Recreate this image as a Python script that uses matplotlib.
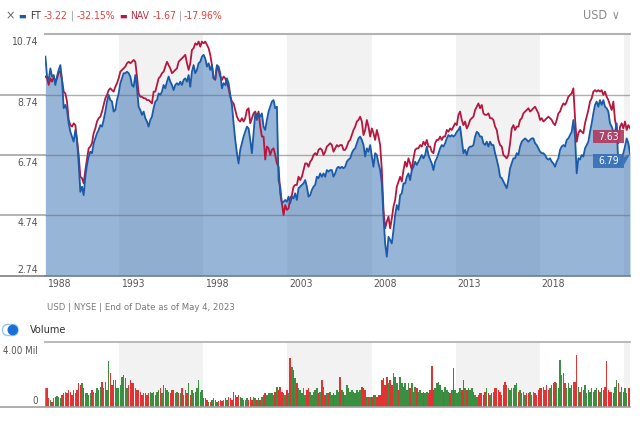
import matplotlib.pyplot as plt
import numpy as np
import pandas as pd
from matplotlib.lines import Line2D
from matplotlib.patches import Circle, FancyBboxPatch, Polygon, Rectangle

plt.rcParams['font.family'] = ['DejaVu Sans']
plt.rcParams['font.stretch'] = 'condensed'

# monthly-ish closes
ft_price = [
    10.00, 9.34, 9.23, 9.61, 9.34, 9.39, 9.06, 9.34, 9.56, 9.72,
    9.23, 8.29, 8.40, 8.23, 7.79, 7.51, 7.35, 7.18, 7.57, 7.24,
    6.46, 5.52, 5.69, 5.41, 6.02, 6.41, 6.69, 6.85, 6.80, 7.13,
    7.29, 7.46, 7.57, 7.73, 7.68, 7.90, 8.18, 8.51, 8.73, 8.56,
    8.51, 8.18, 8.23, 8.56, 8.78, 9.12, 9.28, 9.45, 9.45, 9.50,
    9.45, 9.34, 9.06, 9.00, 9.39, 8.95, 8.34, 8.23, 8.07, 8.18,
    7.96, 7.85, 7.68, 7.90, 8.01, 8.29, 8.51, 8.56, 8.78, 8.73,
    8.84, 9.06, 8.95, 9.17, 9.34, 9.17, 9.06, 8.89, 9.06, 9.12,
    9.06, 9.17, 9.06, 9.23, 9.28, 9.17, 9.39, 9.00, 9.50, 9.72,
    9.45, 9.56, 9.78, 9.83, 10.00, 10.06, 9.94, 9.67, 9.78, 9.56,
    9.72, 9.28, 9.28, 9.72, 9.67, 9.45, 8.95, 9.12, 9.06, 9.28,
    9.12, 8.73, 8.40, 7.79, 7.24, 6.80, 6.46, 6.91, 7.13, 7.35,
    7.51, 7.68, 7.62, 7.24, 6.80, 7.46, 8.12, 7.90, 8.12, 8.01,
    8.12, 7.68, 7.57, 7.90, 8.18, 8.34, 8.51, 8.56, 8.29, 8.34,
    5.91, 5.69, 5.14, 5.19, 5.25, 5.19, 5.36, 5.14, 5.36, 5.30,
    5.47, 5.25, 5.64, 5.69, 5.75, 5.80, 5.91, 5.69, 5.36, 5.41,
    5.58, 5.69, 5.75, 6.02, 5.97, 6.13, 6.02, 6.13, 6.02, 6.24,
    6.19, 6.24, 6.24, 6.02, 6.13, 6.30, 6.35, 6.30,
    6.35, 6.30, 6.35, 6.52, 6.59, 6.63, 6.80, 6.91, 6.96, 7.13,
    7.29, 7.35, 7.24, 7.07, 6.69, 6.96, 6.85, 7.07, 6.69, 6.35,
    6.80, 6.74, 6.46, 6.24, 5.80, 4.70, 3.81, 3.37, 4.03, 3.92,
    3.81, 4.25, 4.75, 5.08, 4.92, 5.41, 5.47, 5.80, 5.80, 6.02,
    6.13, 5.91, 6.24, 6.35, 6.52, 6.41, 6.52, 6.63, 6.74, 6.63,
    6.74, 7.02, 6.74, 6.59, 6.46, 6.24, 6.52, 6.63, 6.80, 6.96,
    7.07, 7.02, 7.13, 7.29, 7.40, 7.35, 7.40, 7.35, 7.40, 7.51,
    7.57, 7.68, 7.24, 6.80, 6.91, 6.74, 6.96, 7.02, 7.02, 7.07,
    7.35, 7.51, 7.46, 7.35, 7.35, 7.13, 7.07,
    7.18, 7.02, 7.18, 7.07, 7.07, 6.80, 6.59, 6.35, 6.02, 5.97,
    5.86, 5.75, 5.64, 5.91, 6.30, 6.46, 6.63, 6.63, 6.80, 6.74,
    7.02, 7.18, 7.24, 7.29, 7.24, 7.18, 7.24, 7.29, 7.29, 7.13,
    7.07, 6.96, 6.85, 6.80, 6.80, 6.74, 6.63, 6.59, 6.63, 6.52,
    6.46, 6.35, 6.52, 6.63, 6.91, 7.02, 7.07, 7.02, 7.24, 7.29,
    7.40, 7.51, 7.90, 7.35, 6.13, 6.63, 6.59, 6.74, 6.69, 6.96,
    7.07, 7.18, 7.51, 7.79, 8.12, 8.40, 8.51, 8.34, 8.56, 8.40,
    8.56, 8.34, 8.29, 8.18, 7.79, 7.68, 7.51, 7.51, 7.79, 6.35,
    6.46, 6.63, 6.80, 7.02, 7.29, 7.13, 6.79,
]

nav_price = [
    9.34, 9.28, 9.06, 9.28, 9.17, 9.34, 9.17, 9.28, 9.50, 9.50,
    9.23, 8.84, 8.78, 8.51, 7.90, 7.73, 7.68, 7.79, 7.73, 7.24,
    6.74, 6.02, 5.97, 5.80, 6.24, 6.59, 6.96, 7.02, 7.13, 7.46,
    7.62, 7.85, 7.96, 8.01, 8.18, 8.40, 8.62, 8.73, 8.89, 8.95,
    8.89, 8.84, 9.00, 9.12, 9.28, 9.50, 9.56, 9.61, 9.67, 9.78,
    9.83, 9.78, 9.83, 9.89, 9.83, 9.34, 8.78, 8.67, 8.67, 8.62,
    8.62, 8.56, 8.56, 8.51, 8.45, 8.84, 8.84, 9.06, 9.28, 9.34,
    9.45, 9.50, 9.67, 9.83, 9.72, 9.61, 9.45, 9.50, 9.56, 9.61,
    9.83, 9.89, 9.94, 10.00, 10.06, 9.78, 9.56, 9.78, 10.22, 10.28,
    10.44, 10.39, 10.50, 10.33, 10.50, 10.44, 10.50, 10.39, 10.28, 10.06,
    9.72, 9.28, 9.23, 9.67, 9.56, 9.34, 9.23, 9.34, 9.28, 9.12,
    8.95, 8.67, 8.51, 8.45, 8.23, 8.01, 7.90, 7.85, 7.96, 7.85,
    7.96, 8.23, 8.29, 7.79, 7.96, 8.12, 8.18, 8.01, 8.18, 7.68,
    7.35, 7.35, 6.59, 7.02, 6.96, 6.74, 6.91, 6.96, 6.74, 6.46,
    6.35, 5.47, 5.14, 4.75, 5.08, 4.92, 4.97, 5.30, 5.41, 5.69,
    5.75, 5.75, 6.02, 5.91, 6.02, 6.24, 6.46, 6.46, 6.35, 6.52,
    6.59, 6.74, 6.80, 6.74, 6.91, 6.96, 6.91, 6.74, 6.85, 7.02,
    7.07, 7.13, 7.07, 6.85, 6.96, 7.07, 7.02, 7.07,
    7.07, 6.91, 6.91, 7.02, 7.18, 7.24, 7.40, 7.57, 7.68, 7.85,
    7.90, 8.01, 7.85, 7.40, 7.57, 7.90, 7.68, 7.35, 7.62, 7.46,
    7.24, 7.57, 7.35, 7.07, 6.24, 4.92, 4.31, 4.53, 4.70, 4.31,
    4.64, 5.03, 5.25, 5.69, 5.86, 6.02, 5.86, 6.24, 6.52, 6.35,
    6.63, 6.46, 6.24, 6.63, 6.91, 6.96, 6.96, 7.07, 7.02, 7.18,
    7.07, 7.24, 7.02, 7.02, 6.85, 6.80, 7.13, 7.24, 7.24, 7.35,
    7.24, 7.35, 7.35, 7.57, 7.51, 7.62, 7.57, 7.68, 7.79, 7.73,
    8.07, 8.18, 7.90, 7.73, 7.85, 7.62, 7.73, 7.90, 7.96, 8.01,
    8.23, 8.34, 8.45, 8.29, 8.40, 8.12, 8.07,
    8.07, 8.12, 7.96, 7.96, 7.90, 7.68, 7.57, 7.24, 7.07, 7.02,
    6.74, 6.69, 6.63, 6.74, 7.13, 7.62, 7.73, 7.57, 7.68, 7.68,
    7.90, 7.96, 8.12, 8.18, 8.23, 8.29, 8.18, 8.23, 8.29, 8.34,
    8.23, 8.12, 7.90, 7.96, 7.85, 7.90, 7.96, 8.01, 7.96, 7.90,
    7.79, 7.73, 7.90, 8.12, 8.18, 8.34, 8.45, 8.40, 8.51, 8.67,
    8.73, 8.78, 8.95, 7.96, 7.18, 7.46, 7.57, 7.51, 7.46, 7.79,
    8.01, 8.23, 8.51, 8.62, 8.84, 8.89, 8.84, 8.89, 8.84, 8.89,
    8.73, 8.84, 8.67, 8.56, 8.40, 8.23, 8.51, 7.90, 7.62, 7.13,
    7.68, 7.79, 7.62, 7.85, 7.57, 7.73, 7.63,
]

# volume in millions of shares
volume_mil = [
    1.17, 1.17, 0.55, 0.45, 0.35, 0.55, 0.66, 0.70, 0.66, 0.55,
    0.76, 0.86, 0.96, 0.86, 1.07, 0.96, 0.76, 1.07, 0.86, 1.07,
    1.48, 1.37, 1.48, 1.17, 0.86, 0.86, 0.76, 0.86, 1.07, 0.96,
    0.86, 1.17, 1.07, 1.27, 1.58, 1.17, 1.58, 1.07, 2.87, 2.09,
    1.37, 1.68, 1.68, 1.17, 1.17, 1.37, 1.89, 1.99, 1.78, 1.17,
    1.37, 1.68, 1.48, 1.48, 1.17, 1.07, 1.07, 0.96, 0.76, 0.86,
    0.86, 0.76, 0.86, 0.96, 0.86, 0.96, 0.76, 0.96, 1.07, 1.17,
    0.86, 1.37, 1.17, 1.07, 0.96, 0.86, 1.07, 1.07, 0.86, 0.96,
    0.86, 0.86, 1.17, 0.76, 1.07, 0.86, 1.48, 0.76, 1.07, 0.86,
    0.96, 1.17, 1.68, 0.96, 1.07, 0.55, 0.55, 0.45, 0.35, 0.35,
    0.45, 0.55, 0.45, 0.35, 0.41, 0.45, 0.41, 0.45, 0.55, 0.45,
    0.66, 0.55, 0.45, 0.96, 0.76, 0.66, 0.76, 0.66, 0.55, 0.45,
    0.45, 0.55, 0.45, 0.66, 0.45, 0.66, 0.55, 0.45, 0.55, 0.45,
    0.66, 0.76, 0.86, 0.76, 0.86, 0.86, 0.86, 0.76, 0.96, 1.27,
    1.07, 1.27, 0.96, 0.86, 0.76, 1.07, 0.86, 3.02, 2.50, 2.30,
    1.78, 1.48, 1.17, 1.07, 0.86, 1.17, 0.76, 1.07, 1.17, 0.96,
    0.76, 0.96, 1.07, 1.17, 0.86, 0.96,
    1.68, 1.27, 0.76, 0.86, 0.86, 0.96, 0.76, 0.86, 0.76, 1.07,
    0.96, 1.89, 1.07, 0.96, 0.76, 1.37, 1.17, 0.96, 1.07, 0.96,
    0.86, 1.07, 0.96, 1.07, 1.27, 1.17, 1.07, 0.66, 0.66, 0.66,
    0.66, 0.76, 0.76, 0.66, 0.76, 0.76, 1.68, 1.78, 1.37, 1.89,
    1.48, 1.68, 1.37, 2.09, 1.89, 1.48, 1.07, 1.89, 1.48, 1.27,
    1.48, 1.07, 1.48, 1.17, 1.48, 0.96, 1.27, 1.17, 0.96, 1.07,
    0.86, 0.96, 0.86, 0.96, 0.86, 1.07, 2.54, 1.07, 1.17, 1.48,
    1.58, 1.37, 1.07, 0.96, 1.27, 1.07, 0.96, 0.86, 1.07, 2.40,
    1.07, 0.86, 0.96, 1.17, 1.07, 1.68, 1.17, 1.07, 1.17, 1.07,
    1.17, 0.96, 0.76, 0.66, 0.76, 0.86, 0.86, 0.76, 0.96, 1.17,
    0.86, 0.76, 0.86, 0.96, 1.17, 1.17, 1.07, 0.96, 0.76, 1.37,
    1.58, 1.37, 1.17, 1.07, 1.17, 1.17, 1.37, 1.48, 0.96, 1.07,
    0.86, 0.96, 0.76, 0.86, 0.86, 0.96, 0.76, 0.96, 0.86, 0.76,
    1.07, 1.17, 1.17, 1.27, 1.07, 1.37, 1.07, 1.17, 1.37, 1.48,
    1.58, 1.48, 1.17, 2.91, 1.99, 2.09, 1.48, 1.17, 1.48, 1.17,
    1.37, 1.58, 1.58, 3.22, 1.27, 0.96, 1.27, 1.07, 1.37, 0.86,
    1.07, 0.96, 1.17, 0.96, 1.07, 1.17, 1.07, 0.96, 1.17, 1.07,
    1.27, 2.87, 1.07, 0.96, 0.96, 0.86, 1.27, 1.68, 1.48, 0.96,
    1.27, 0.96, 1.17, 0.86, 1.17, 1.17,
]

year_labels = [1988, 1993, 1998, 2003, 2008, 2013, 2018]
shaded_years = [1993, 2003, 2013, 2023]
price_ticks = [10.74, 8.74, 6.74, 4.74, 2.74]

dates = pd.date_range("1988-08-20", "2023-05-04", periods=len(ft_price))
xmin, xmax = pd.Timestamp("1988-08-12"), pd.Timestamp("2023-05-04")

BLUE = '#1a5aa6'
RED = '#b5173f'
NUM_RED = '#e0423a'
W, H = 640, 429


def fx(px):
    return px / W


def fy(py):
    return 1 - py / H


fig = plt.figure(figsize=(6.4, 4.29), dpi=100)
ax = fig.add_axes([fx(45), fy(275.7), fx(585), (275.7 - 34.3) / H])
vax = fig.add_axes([fx(45), fy(407.3), fx(585), (407.3 - 342.3) / H])

for a in (ax, vax):
    a.set_xlim(xmin, xmax)
    a.set_axis_off()
    for y in shaded_years:
        a.axvspan(pd.Timestamp(y, 1, 1), pd.Timestamp(y + 5, 1, 1),
                  color='#f2f2f2', lw=0, zorder=0)

# price panel
ax.set_ylim(2.74, 10.74)
ax.fill_between(dates, ft_price, 2.74, color='#2f6cb0', alpha=0.5, lw=0, zorder=1)
for v in price_ticks[1:4]:
    ax.axhline(v, color='#6b6b6b', alpha=0.55, lw=1, zorder=1.5)
ax.axhline(10.74, color='#b3b3b3', lw=1.5, clip_on=False, zorder=1.5)
ax.plot(dates, nav_price, color=RED, lw=1.3, zorder=3)
ax.plot(dates, ft_price, color=BLUE, lw=1.3, zorder=4)

# grid stubs left of the plot and the base line
for v in price_ticks[1:]:
    py = 34.3 + (10.74 - v) * 30.17
    c = '#7f7f7f' if v == 2.74 else '#a6a6a6'
    fig.add_artist(Line2D([0, fx(45)], [fy(py), fy(py)], color=c, lw=1.2))
fig.add_artist(Line2D([fx(45), fx(630)], [fy(275.7), fy(275.7)], color='#6f7f90', lw=1.2))

for v in price_ticks:
    off = 4.3 if v == 2.74 else -5.8
    ax.annotate(f"{v:.2f}", xy=(fx(38), v), xycoords=('figure fraction', 'data'),
                xytext=(0, off), textcoords='offset points', ha='right', va='center',
                fontsize=7.5, color='#555555')

for yr in year_labels:
    x = pd.Timestamp(yr, 1, 1) if yr != 1988 else xmin
    ax.annotate(str(yr), xy=(x, 0), xycoords=('data', 'axes fraction'),
                xytext=(1.2, -5.8), textcoords='offset points', ha='left', va='center',
                fontsize=7.5, color='#555555')

# last value tags
fig.add_artist(Rectangle((fx(592.7), fy(143.3)), fx(31.3), 13.3 / H,
                         transform=fig.transFigure, color='#b03a5e', alpha=0.9, lw=0))
fig.text(fx(608.3), fy(136.6), f"{nav_price[-1]:.2f}", ha='center', va='center',
         fontsize=7.5, color='white')
fig.add_artist(Rectangle((fx(592.7), fy(168.3)), fx(31.3), 14.3 / H,
                         transform=fig.transFigure, color='#3a72b8', alpha=0.95, lw=0))
fig.add_artist(Polygon([[fx(624), fy(157)], [fx(630), fy(154)], [fx(624), fy(165)]],
                       closed=True, transform=fig.transFigure, color='#3a72b8', lw=0))
fig.text(fx(608.3), fy(161.2), f"{ft_price[-1]:.2f}", ha='center', va='center',
         fontsize=7.5, color='white')

# header legend, each piece placed right after the previous one
hy = fy(15.7)
header = [
    ("\u00d7", '#666666', 0, 9),
    ("\u25ac", BLUE, 2.5, 6.5),
    ("FT", '#333333', 3, 7.5),
    ("-3.22", NUM_RED, 2.5, 7.5),
    ("|", '#999999', 2.5, 7.5),
    ("-32.15%", NUM_RED, 1.5, 7.5),
    ("\u25ac", RED, 3, 6.5),
    ("NAV", '#c0304a', 2.5, 7.5),
    ("-1.67", NUM_RED, 2.5, 7.5),
    ("|", '#999999', 1.5, 7.5),
    ("-17.96%", NUM_RED, 1.5, 7.5),
]
prev = fig.text(fx(5), hy, header[0][0], color=header[0][1], fontsize=header[0][3],
                va='center')
for s, c, gap, size in header[1:]:
    prev = ax.annotate(s, xy=(1, 0.5), xycoords=prev, xytext=(gap, 0),
                       textcoords='offset points', va='center', ha='left',
                       color=c, fontsize=size, annotation_clip=False)

fig.text(fx(583), hy, "USD", fontsize=9, color='#8a8a8a', va='center')
fig.text(fx(612), hy, "\u2228", fontsize=8.5, color='#8a8a8a', va='center')

fig.text(fx(47), fy(308), "USD | NYSE | End of Date as of May 4, 2023",
         fontsize=6.8, color='#777777', va='center')

# volume toggle
tog = fig.add_axes([0, fy(338), fx(24), 16 / H])
tog.set_xlim(0, 24)
tog.set_ylim(0, 16)
tog.set_axis_off()
tog.add_patch(FancyBboxPatch((2.5, 2.5), 15.5, 11, boxstyle='round,pad=0,rounding_size=5.5',
                             fc='white', ec='#9cc3ee', lw=1))
tog.add_patch(Circle((12.8, 8), 4.6, color='#1a6fd6'))
fig.text(fx(30), fy(330), "Volume", fontsize=7.8, color='#333333', va='center')

# volume panel
vax.set_ylim(0, 4.0)
chg = np.diff(np.array(ft_price), prepend=np.nan)
bar_colors = ['#8c8c8c' if np.isnan(c) else ('#e03434' if c < 0 else '#3a9040')
              for c in chg]
vax.bar(dates, volume_mil, width=32, color=bar_colors, lw=0, zorder=2)
vax.axhline(4.0, color='#b3b3b3', lw=1.3, clip_on=False)
fig.add_artist(Line2D([0, fx(630)], [fy(407.3), fy(407.3)], color='#a0a0a0', lw=1.2))
fig.text(fx(38), fy(350.5), "4.00 Mil", ha='right', va='center', fontsize=7, color='#555555')
fig.text(fx(38), fy(400.5), "0", ha='right', va='center', fontsize=7, color='#555555')

fig.savefig("out.png", dpi=100)
